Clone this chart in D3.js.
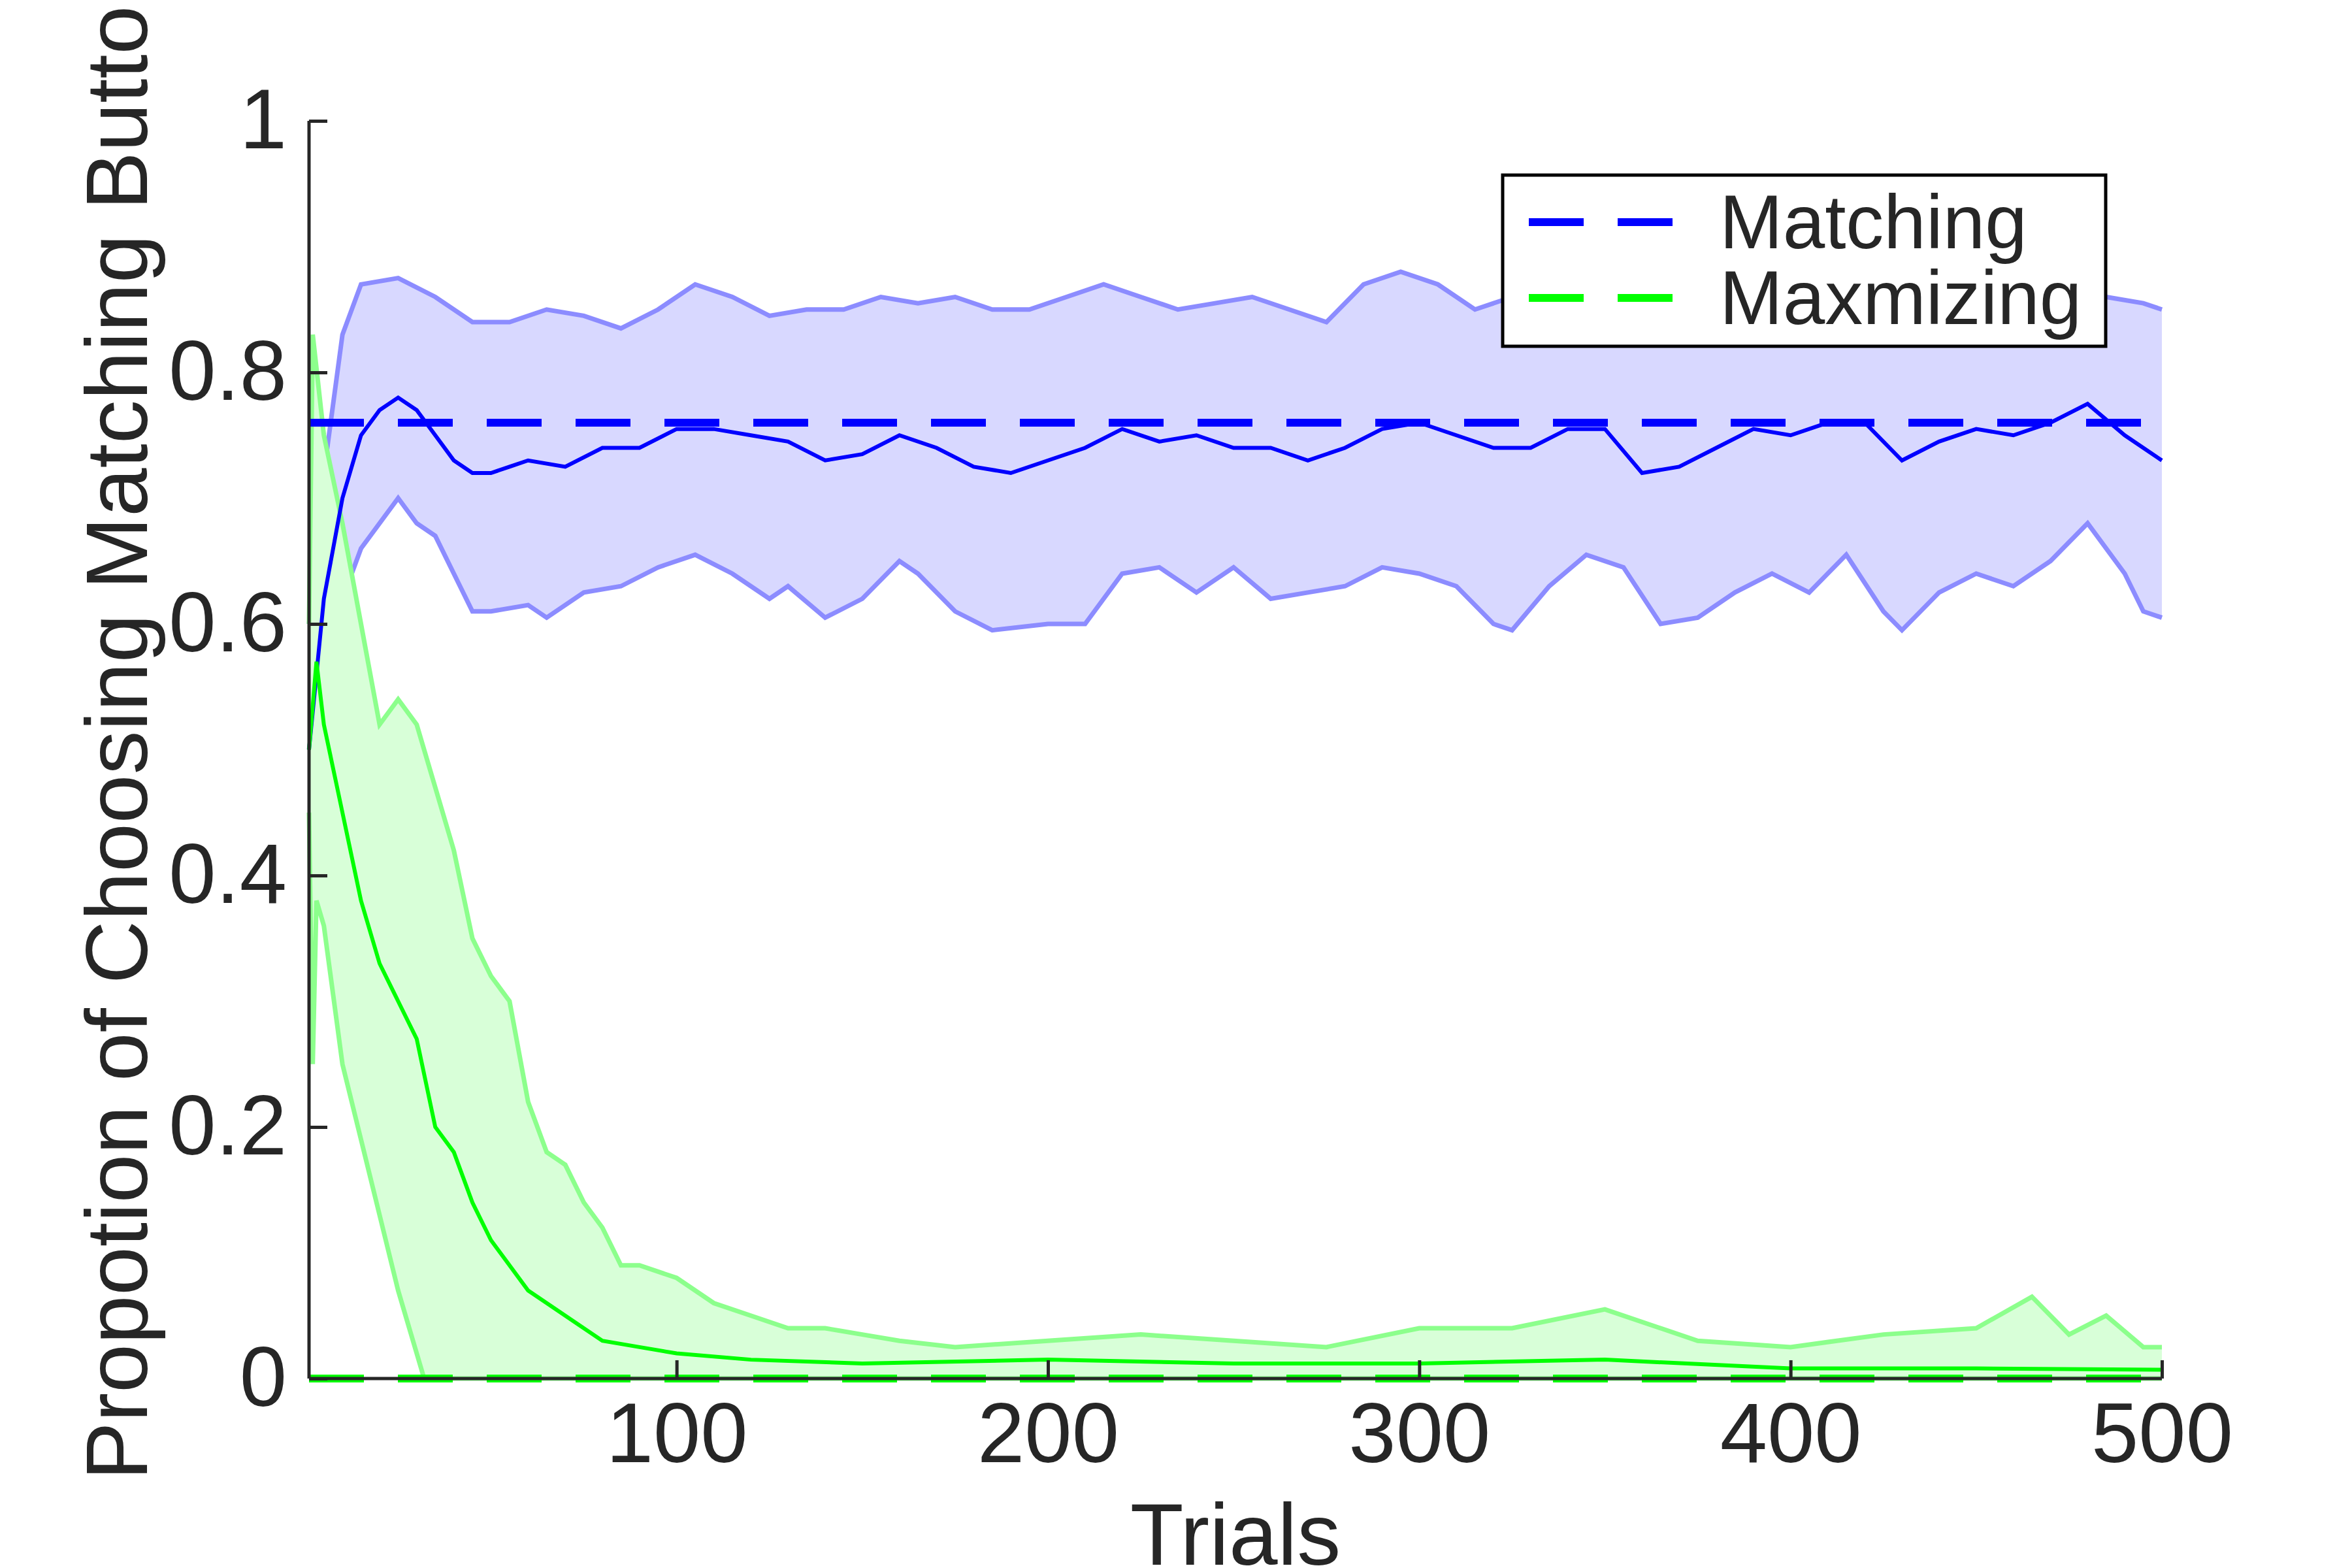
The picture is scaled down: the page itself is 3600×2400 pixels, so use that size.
<!DOCTYPE html>
<html><head><meta charset="utf-8">
<script src="https://cdn.jsdelivr.net/npm/d3@7"></script>
<style>body{margin:0;background:#fff}text{font-family:"Liberation Sans",Arial,sans-serif;fill:#262626}</style>
</head><body><svg id="c" width="3600" height="2400"></svg>
<script>
var blueMean = [[1,0.5],[5,0.62],[10,0.70],[15,0.75],[20,0.77],[25,0.78],[30,0.77],[35,0.75],[40,0.73],[45,0.72],[50,0.72],[55,0.725],[60,0.73],[70,0.725],[80,0.74],[90,0.74],[100,0.755],[110,0.755],[120,0.75],[130,0.745],[140,0.73],[150,0.735],[160,0.75],[170,0.74],[180,0.725],[190,0.72],[200,0.73],[210,0.74],[220,0.755],[230,0.745],[240,0.75],[250,0.74],[260,0.74],[270,0.73],[280,0.74],[290,0.755],[300,0.76],[310,0.75],[320,0.74],[330,0.74],[340,0.755],[350,0.755],[360,0.72],[370,0.725],[380,0.74],[390,0.755],[400,0.75],[410,0.76],[420,0.76],[430,0.73],[440,0.745],[450,0.755],[460,0.75],[470,0.76],[480,0.775],[490,0.75],[500,0.73]];
var blueUpper = [[1,0.6],[5,0.72],[10,0.83],[15,0.87],[25,0.875],[35,0.86],[45,0.84],[55,0.84],[65,0.85],[75,0.845],[85,0.835],[95,0.85],[105,0.87],[115,0.86],[125,0.845],[135,0.85],[145,0.85],[155,0.86],[165,0.855],[175,0.86],[185,0.85],[195,0.85],[205,0.86],[215,0.87],[225,0.86],[235,0.85],[245,0.855],[255,0.86],[265,0.85],[275,0.84],[285,0.87],[295,0.88],[305,0.87],[315,0.85],[325,0.86],[335,0.88],[345,0.88],[355,0.87],[365,0.86],[375,0.87],[385,0.88],[395,0.88],[405,0.87],[415,0.86],[425,0.85],[435,0.85],[445,0.86],[455,0.87],[465,0.87],[475,0.87],[485,0.86],[495,0.855],[500,0.85]];
var blueLower = [[1,0.5],[5,0.58],[10,0.62],[15,0.66],[25,0.70],[30,0.68],[35,0.67],[40,0.64],[45,0.61],[50,0.61],[60,0.615],[65,0.605],[75,0.625],[85,0.63],[95,0.645],[105,0.655],[115,0.64],[125,0.62],[130,0.63],[140,0.605],[150,0.62],[160,0.65],[165,0.64],[175,0.61],[185,0.595],[200,0.6],[210,0.6],[220,0.64],[230,0.645],[240,0.625],[250,0.645],[260,0.62],[270,0.625],[280,0.63],[290,0.645],[300,0.64],[310,0.63],[320,0.6],[325,0.595],[335,0.63],[345,0.655],[355,0.645],[365,0.6],[375,0.605],[385,0.625],[395,0.64],[405,0.625],[415,0.655],[425,0.61],[430,0.595],[440,0.625],[450,0.64],[460,0.63],[470,0.65],[480,0.68],[490,0.64],[495,0.61],[500,0.605]];
var greenMean = [[1,0.5],[3,0.57],[5,0.52],[10,0.45],[15,0.38],[20,0.33],[25,0.3],[30,0.27],[35,0.2],[40,0.18],[45,0.14],[50,0.11],[55,0.09],[60,0.07],[65,0.06],[70,0.05],[80,0.03],[90,0.025],[100,0.02],[120,0.015],[150,0.012],[200,0.015],[250,0.012],[300,0.012],[350,0.015],[400,0.008],[450,0.008],[500,0.007]];
var greenUpper = [[1,0.6],[2,0.83],[5,0.75],[10,0.68],[15,0.6],[20,0.52],[25,0.54],[30,0.52],[35,0.47],[40,0.42],[45,0.35],[50,0.32],[55,0.3],[60,0.22],[65,0.18],[70,0.17],[75,0.14],[80,0.12],[85,0.09],[90,0.09],[100,0.08],[110,0.06],[120,0.05],[130,0.04],[140,0.04],[150,0.035],[160,0.03],[175,0.025],[200,0.03],[225,0.035],[250,0.03],[275,0.025],[300,0.04],[325,0.04],[350,0.055],[375,0.03],[400,0.025],[425,0.035],[450,0.04],[465,0.065],[475,0.035],[485,0.05],[495,0.025],[500,0.025]];
var greenLower = [[1,0.45],[2,0.25],[3,0.38],[5,0.36],[10,0.25],[15,0.19],[20,0.13],[25,0.07],[30,0.02],[32,0],[500,0]];
var xTicks = [100,200,300,400,500];
var yTicks = [0,0.2,0.4,0.6,0.8,1];
var refMatching = 0.76, refMax = 0;

var svg = d3.select("#c");
var pLeft = 473, pRight = 3309, pTop = 185, pBottom = 2110;
var x = d3.scaleLinear().domain([1,500]).range([pLeft,pRight]);
var y = d3.scaleLinear().domain([0,1]).range([pBottom,pTop]);
var line = d3.line().x(d=>x(d[0])).y(d=>y(d[1]));

function band(up, lo, fill, edge){
  var pts = up.concat(lo.slice().reverse());
  svg.append("path").attr("d", line(pts)+"Z").attr("fill",fill);
  [up,lo].forEach(function(s){
    svg.append("path").attr("d", line(s)).attr("fill","none").attr("stroke",edge).attr("stroke-width",7);
  });
}
band(blueUpper, blueLower, "#d8d8ff", "#8c8cff");
band(greenUpper, greenLower, "#d8ffd8", "#8cff8c");

svg.append("path").attr("d", line(blueMean)).attr("fill","none").attr("stroke","#0000ff").attr("stroke-width",6);
svg.append("path").attr("d", line(greenMean)).attr("fill","none").attr("stroke","#00ff00").attr("stroke-width",6);

[[refMatching,"#0000ff"],[refMax,"#00ff00"]].forEach(function(r){
  svg.append("line").attr("x1",x(1)).attr("x2",x(500)).attr("y1",y(r[0])).attr("y2",y(r[0]))
    .attr("stroke",r[1]).attr("stroke-width",12).attr("stroke-dasharray","84,52");
});

var ax = svg.append("g").attr("transform","translate(0,"+pBottom+")")
  .call(d3.axisBottom(x).tickValues(xTicks).tickSize(-28).tickPadding(36));
var ay = svg.append("g").attr("transform","translate("+pLeft+",0)")
  .call(d3.axisLeft(y).tickValues(yTicks).tickSize(-28).tickPadding(34).tickFormat(d3.format("~g")));
[ax,ay].forEach(function(a){
  a.selectAll("path,line").attr("stroke","#262626").attr("stroke-width",5);
  a.selectAll("text").attr("font-size",130).attr("fill","#262626");
});
ax.select(".domain").attr("d","M"+pLeft+",0H"+pRight);
ay.select(".domain").attr("d","M0,"+pTop+"V"+pBottom);

svg.append("text").attr("x",(pLeft+pRight)/2).attr("y",2395).attr("text-anchor","middle").attr("font-size",134).text("Trials");
svg.append("text").attr("transform","translate(225,1100) rotate(-90)").attr("text-anchor","middle").attr("font-size",134).text("Propotion of Choosing Matching Button");

var lg = svg.append("g").attr("transform","translate(2300,268)");
lg.append("rect").attr("width",923).attr("height",262).attr("fill","#fff").attr("stroke","#000").attr("stroke-width",5);
[["Matching","#0000ff"],["Maxmizing","#00ff00"]].forEach(function(d,i){
  var yy = 72 + i*116;
  lg.append("line").attr("x1",40).attr("x2",260).attr("y1",yy).attr("y2",yy).attr("stroke",d[1]).attr("stroke-width",12).attr("stroke-dasharray","84,52");
  lg.append("text").attr("x",332).attr("y",yy+40).attr("font-size",116).attr("fill","#000").text(d[0]);
});
</script></body></html>
